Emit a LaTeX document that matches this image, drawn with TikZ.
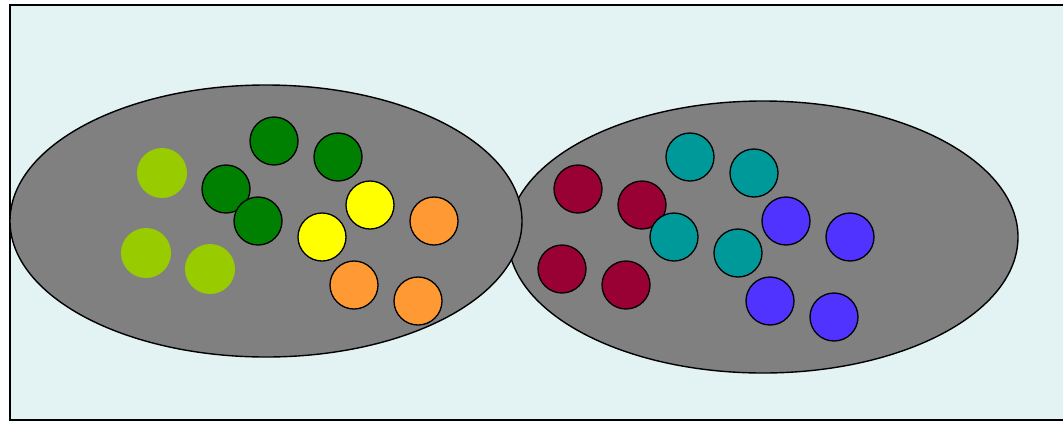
\documentclass[tikz,border=0pt]{standalone}
\usepackage{tikz}
\usetikzlibrary{shapes.geometric}
\definecolor{paleback}{HTML}{E3F3F3}
\definecolor{lime}{HTML}{99CC00}
\definecolor{leaf}{HTML}{008000}
\definecolor{sun}{HTML}{FFFF00}
\definecolor{tangerine}{HTML}{FF9933}
\definecolor{wine}{HTML}{990033}
\definecolor{sea}{HTML}{009999}
\definecolor{violetblue}{HTML}{5033FF}
\tikzset{cluster/.style={draw,ellipse,fill=gray,line width=1.4pt,inner sep=0pt,
    minimum width=512pt,minimum height=272pt},
  dot/.style={draw,circle,line width=1.3pt,inner sep=0pt,minimum size=48pt},
  softdot/.style={circle,inner sep=0pt,minimum size=50pt}}

\begin{document}
\begin{tikzpicture}[x=1pt,y=-1pt]
\useasboundingbox (0,0) rectangle (1063,421);
% frame
\draw[fill=paleback,line width=2pt] (1070,5) -- (10,5) -- (10,420) -- (1070,420);
% two groups, left one on top
\node[cluster,minimum width=510pt] (right) at (763,237) {};
\node[cluster] (left) at (266,221) {};
% left group
\foreach \n/\x/\y in {a1/162/173,a2/146/253,a3/210/269}
  \node[softdot,fill=lime] (\n) at (\x,\y) {};
\foreach \n/\x/\y in {b1/274/141,b2/338/157,b3/226/189,b4/258/221}
  \node[dot,fill=leaf] (\n) at (\x,\y) {};
\foreach \n/\x/\y in {c1/370/205,c2/322/237}
  \node[dot,fill=sun] (\n) at (\x,\y) {};
\foreach \n/\x/\y in {d1/434/221,d2/354/285,d3/418/301}
  \node[dot,fill=tangerine] (\n) at (\x,\y) {};
% right group
\foreach \n/\x/\y in {e1/578/189,e2/642/205,e3/562/269,e4/626/285}
  \node[dot,fill=wine] (\n) at (\x,\y) {};
\foreach \n/\x/\y in {f1/690/157,f2/754/173,f3/674/237,f4/738/253}
  \node[dot,fill=sea] (\n) at (\x,\y) {};
\foreach \n/\x/\y in {h1/786/221,h2/850/237,h3/770/301,h4/834/317}
  \node[dot,fill=violetblue] (\n) at (\x,\y) {};
\end{tikzpicture}
\end{document}
